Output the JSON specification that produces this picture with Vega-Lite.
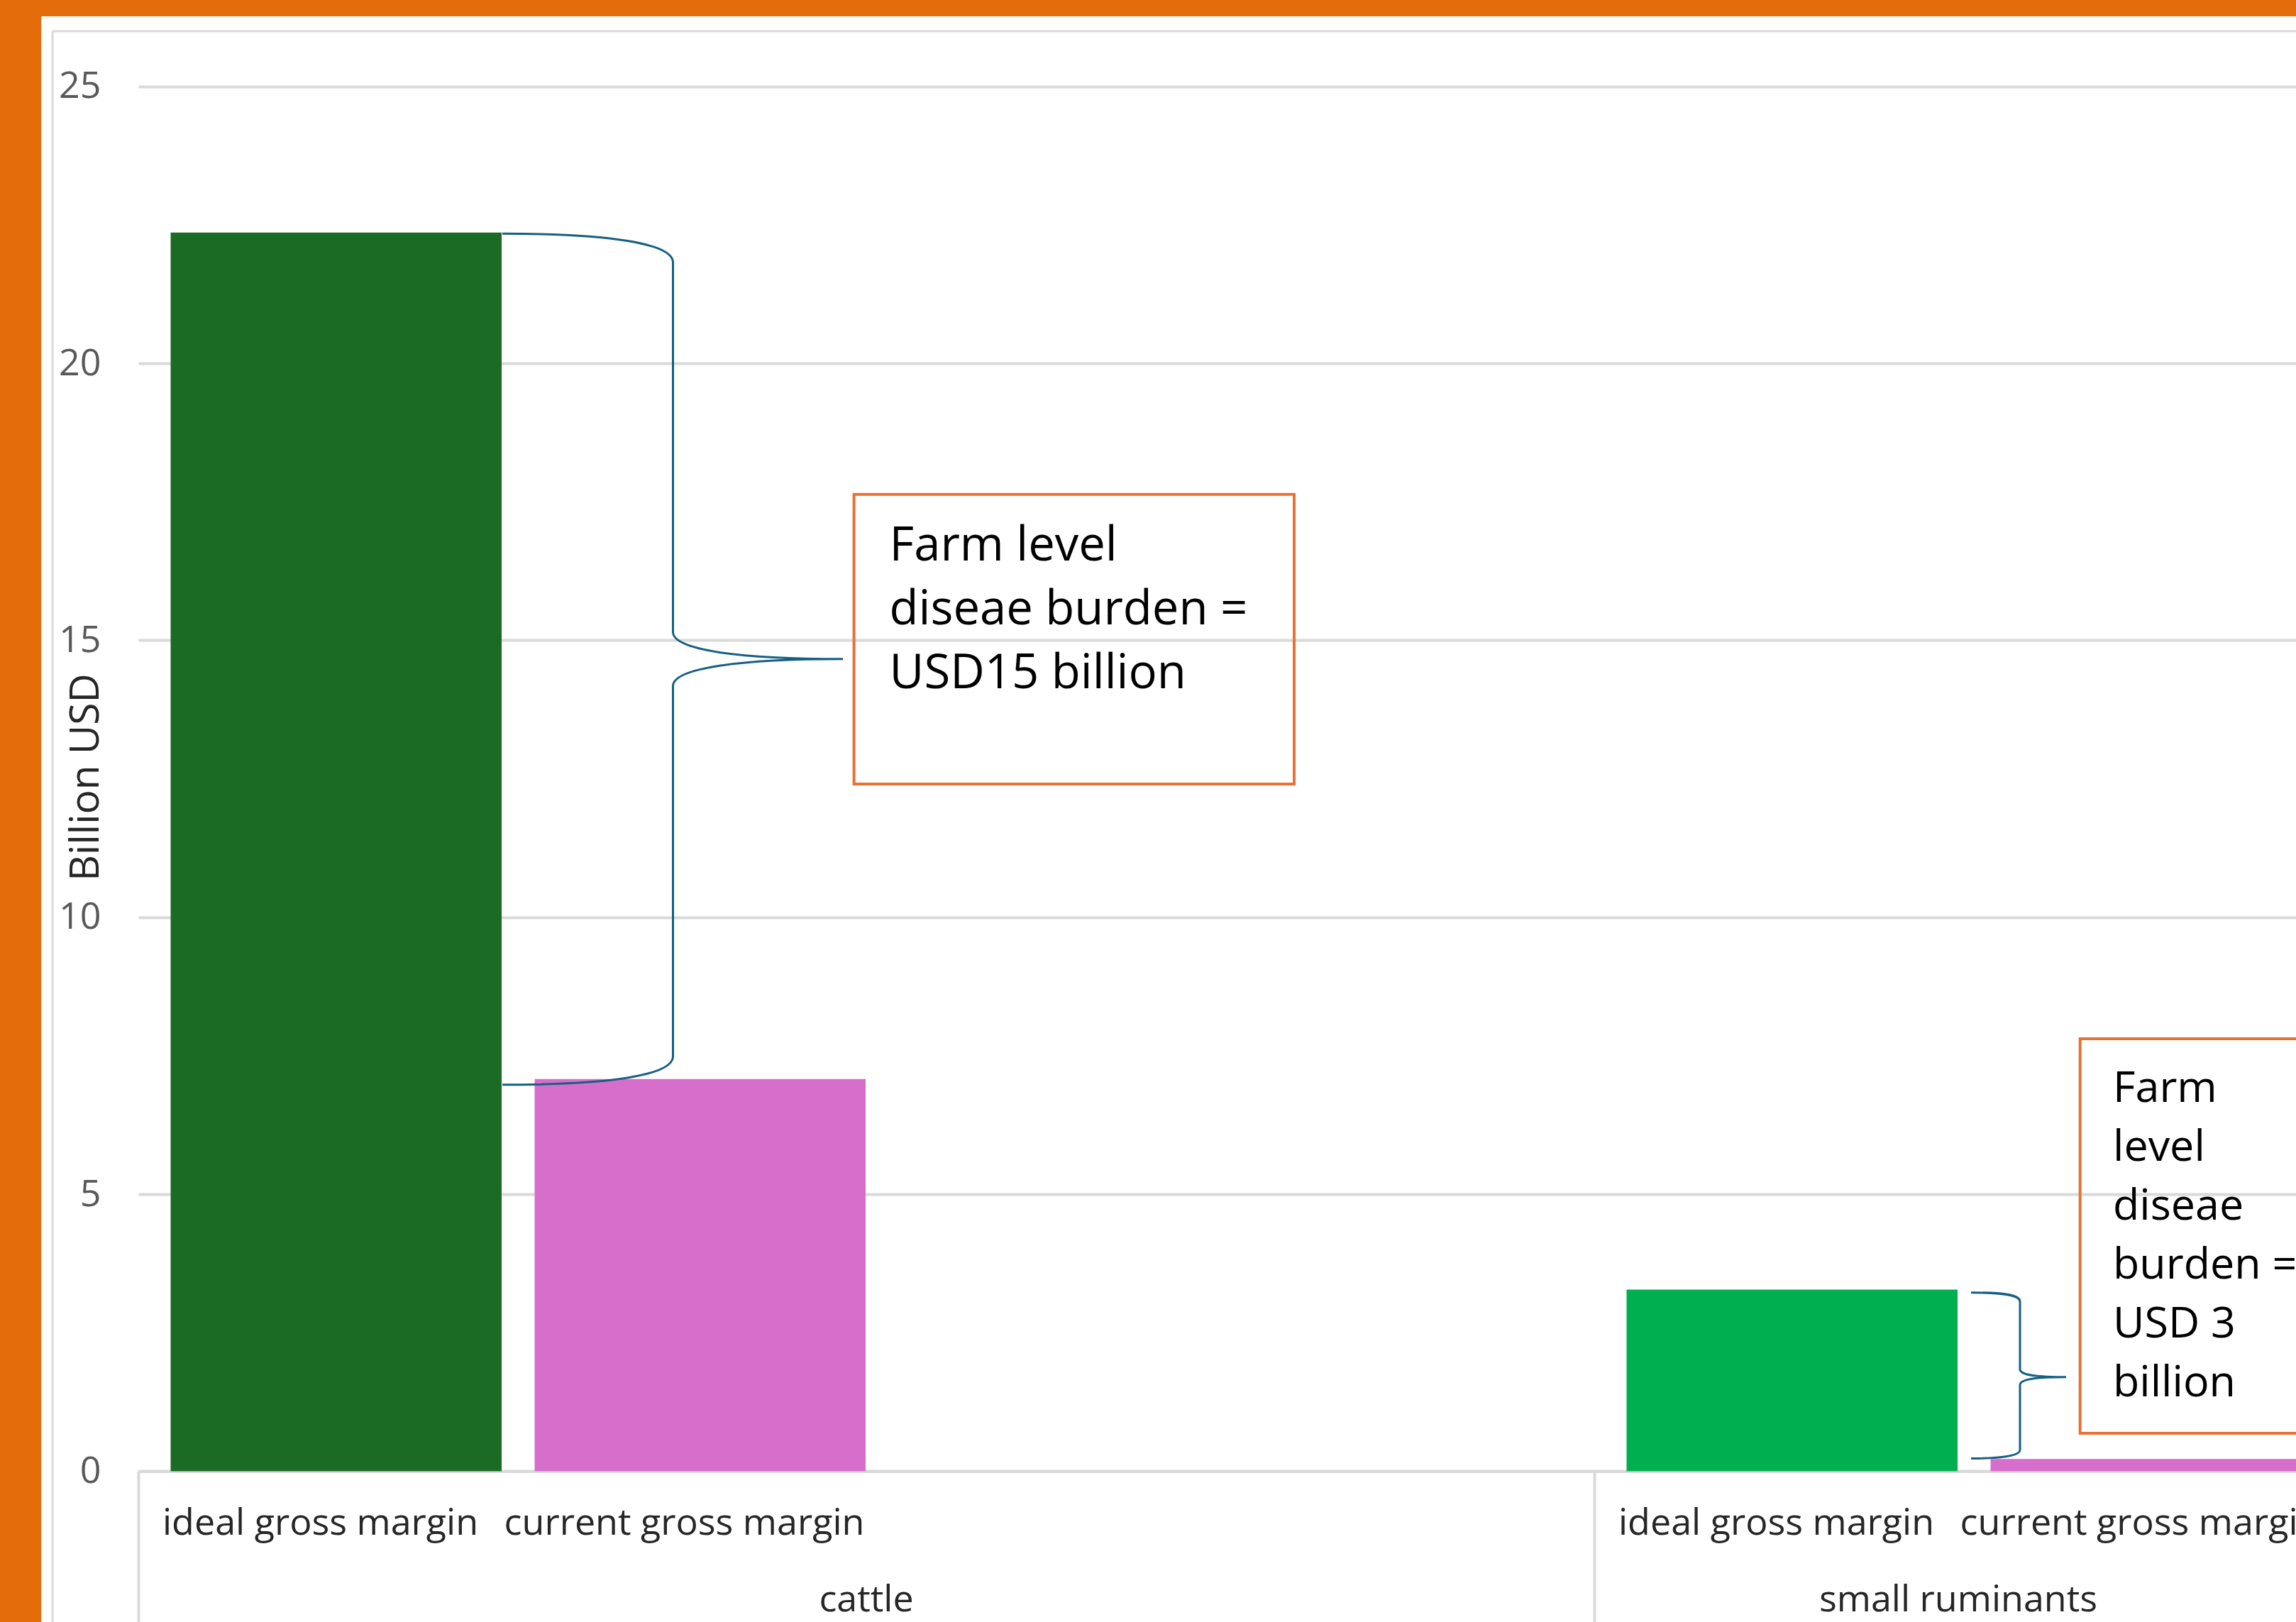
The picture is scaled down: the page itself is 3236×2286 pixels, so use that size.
{
  "$schema": "https://vega.github.io/schema/vega-lite/v6.json",
  "width": 3178,
  "height": 2263,
  "autosize": {"type": "none"},
  "padding": {"left": 58, "top": 23, "right": 0, "bottom": 0},
  "background": "#E46C0A",
  "config": {
    "font": "Open Sans",
    "view": {"fill": "white", "stroke": null}
  },
  "datasets": {
    "bars": [
      {"group": "cattle", "measure": "ideal gross margin", "slot": "cattle|ideal", "value": 22.36},
      {"group": "cattle", "measure": "current gross margin", "slot": "cattle|current", "value": 7.08},
      {"group": "small ruminants", "measure": "ideal gross margin", "slot": "sr|ideal", "value": 3.28},
      {"group": "small ruminants", "measure": "current gross margin", "slot": "sr|current", "value": 0.22}
    ],
    "annotations": [
      {"group": "cattle", "anchor": "cattle|current", "top": 22.36, "label": "Farm level\ndiseae burden =\nUSD15 billion"},
      {"group": "small ruminants", "anchor": "sr|current", "top": 3.28, "label": "Farm\nlevel\ndiseae\nburden =\nUSD 3\nbillion"}
    ]
  },
  "resolve": {
    "scale": {"x": "independent", "y": "independent", "shape": "independent", "color": "independent"},
    "axis": {"x": "independent", "y": "independent"}
  },
  "layer": [
    {
      "data": {"name": "bars"},
      "mark": {"type": "bar", "width": {"band": 0.9094}, "xOffset": 22.25},
      "encoding": {
        "x": {
          "field": "slot", "type": "nominal",
          "scale": {"type": "band", "domain": ["cattle|ideal", "cattle|current", "cattle|gap1", "cattle|gap2", "sr|ideal", "sr|current"], "range": [137, 3215], "paddingInner": 0, "paddingOuter": 0},
          "axis": {
            "orient": "bottom", "offset": -212.5,
            "values": ["cattle|ideal", "cattle|current", "sr|ideal", "sr|current"],
            "labelExpr": "indexof(datum.value, 'ideal') >= 0 ? 'ideal gross margin' : 'current gross margin'",
            "labelAngle": 0, "labelFontSize": 52, "labelColor": "#262626",
            "labelBaseline": "alphabetic", "labelPadding": 88.5, "labelLimit": 2000,
            "labelOverlap": false, "labelFlush": false,
            "ticks": false, "grid": false,
            "domain": true, "domainColor": "#d9d9d9", "domainWidth": 4,
            "title": null
          }
        },
        "y": {
          "field": "value", "type": "quantitative",
          "scale": {"domain": [-2.722, 26.264], "nice": false, "zero": false},
          "axis": {
            "orient": "left", "offset": -137,
            "values": [0, 5, 10, 15, 20, 25],
            "grid": true, "gridColor": "#d9d9d9", "gridWidth": 4,
            "domain": false, "ticks": false,
            "labelFontSize": 52, "labelColor": "#595959", "labelPadding": 53, "labelFlush": false,
            "title": "Billion USD", "titleFontSize": 57, "titleColor": "#262626", "titleFontWeight": "normal",
            "titleX": -74, "titleY": 1072, "titleAngle": -90, "titleAlign": "center", "titleBaseline": "middle"
          }
        },
        "y2": {"datum": 0},
        "color": {
          "field": "slot", "type": "nominal",
          "scale": {"domain": ["cattle|ideal", "cattle|current", "sr|ideal", "sr|current"], "range": ["#1b6b25", "#d76ecc", "#00b050", "#d76ecc"]},
          "legend": null
        }
      }
    },
    {
      "data": {"name": "annotations"},
      "mark": {"type": "point", "filled": false, "size": 4, "color": "#156082", "stroke": "#156082", "strokeWidth": 3, "opacity": 1},
      "encoding": {
        "x": {
          "field": "anchor", "type": "nominal", "bandPosition": 0,
          "scale": {"type": "band", "domain": ["cattle|ideal", "cattle|current", "cattle|gap1", "cattle|gap2", "sr|ideal", "sr|current"], "range": [137, 3215], "paddingInner": 0, "paddingOuter": 0},
          "axis": {
            "orient": "bottom", "offset": -212.5,
            "values": ["cattle|current", "sr|ideal"],
            "labelOffset": 256.5,
            "labelExpr": "datum.value == 'cattle|current' ? 'cattle' : 'small ruminants'",
            "labelAngle": 0, "labelFontSize": 52, "labelColor": "#262626",
            "labelBaseline": "alphabetic", "labelPadding": 196.5, "labelLimit": 2000,
            "labelOverlap": false, "labelFlush": false,
            "ticks": false, "grid": false, "domain": false, "title": null
          }
        },
        "y": {
          "field": "top", "type": "quantitative",
          "scale": {"domain": [-2.722, 26.264], "nice": false, "zero": false},
          "axis": null
        },
        "shape": {
          "field": "group", "type": "nominal",
          "scale": {
            "domain": ["cattle", "small ruminants"],
            "range": [
              "M0,1.5 C150,1.5 240.5,15 240.5,42 L240.5,563 C240.5,588 332,601 480,601 C332,601 240.5,614 240.5,639 L240.5,1161 C240.5,1188 150,1201 0,1201",
              "M18,4.3 C62,4.3 87,7 87,17 L87,112 C87,119 100,123.3 152,123.3 C100,123.3 87,128 87,134.5 L87,226 C87,234 62,238 18,238"
            ]
          },
          "legend": null
        }
      }
    },
    {
      "data": {"name": "annotations"},
      "mark": {"type": "point", "filled": false, "size": 4, "color": "#E97132", "stroke": "#E97132", "strokeWidth": 4, "opacity": 1},
      "encoding": {
        "x": {
          "field": "anchor", "type": "nominal", "bandPosition": 0,
          "scale": {"type": "band", "domain": ["cattle|ideal", "cattle|current", "cattle|gap1", "cattle|gap2", "sr|ideal", "sr|current"], "range": [137, 3215], "paddingInner": 0, "paddingOuter": 0},
          "axis": {
            "orient": "bottom", "offset": -212.5,
            "values": ["cattle|ideal", "sr|ideal"], "bandPosition": 0,
            "ticks": true, "tickSize": 215, "tickColor": "#d9d9d9", "tickWidth": 4,
            "labels": false, "domain": false, "grid": false, "title": null
          }
        },
        "y": {
          "field": "top", "type": "quantitative",
          "scale": {"domain": [-2.722, 26.264], "nice": false, "zero": false},
          "axis": null
        },
        "shape": {
          "field": "group", "type": "nominal",
          "scale": {
            "domain": ["cattle", "small ruminants"],
            "range": [
              "M495.6,368.9 H1116 V777.2 H495.6 Z",
              "M171.7,-353.4 H600 V202.6 H171.7 Z"
            ]
          },
          "legend": null
        }
      }
    },
    {
      "data": {"name": "annotations"},
      "transform": [{"filter": "datum.group == 'cattle'"}],
      "mark": {"type": "text", "align": "left", "baseline": "alphabetic", "dx": 545.6, "dy": 462.2, "fontSize": 67, "lineHeight": 90, "lineBreak": "\n", "color": "#000000"},
      "encoding": {
        "x": {
          "field": "anchor", "type": "nominal", "bandPosition": 0,
          "scale": {"type": "band", "domain": ["cattle|ideal", "cattle|current", "cattle|gap1", "cattle|gap2", "sr|ideal", "sr|current"], "range": [137, 3215], "paddingInner": 0, "paddingOuter": 0},
          "axis": null
        },
        "y": {
          "field": "top", "type": "quantitative",
          "scale": {"domain": [-2.722, 26.264], "nice": false, "zero": false},
          "axis": null
        },
        "text": {"field": "label", "type": "nominal"}
      }
    },
    {
      "data": {"name": "annotations"},
      "transform": [{"filter": "datum.group == 'small ruminants'"}],
      "mark": {"type": "text", "align": "left", "baseline": "alphabetic", "dx": 218, "dy": -264.9, "fontSize": 61, "lineHeight": 83, "lineBreak": "\n", "color": "#000000"},
      "encoding": {
        "x": {
          "field": "anchor", "type": "nominal", "bandPosition": 0,
          "scale": {"type": "band", "domain": ["cattle|ideal", "cattle|current", "cattle|gap1", "cattle|gap2", "sr|ideal", "sr|current"], "range": [137, 3215], "paddingInner": 0, "paddingOuter": 0},
          "axis": null
        },
        "y": {
          "field": "top", "type": "quantitative",
          "scale": {"domain": [-2.722, 26.264], "nice": false, "zero": false},
          "axis": null
        },
        "text": {"field": "label", "type": "nominal"}
      }
    },
    {
      "data": {"name": "annotations"},
      "mark": {"type": "point", "opacity": 0},
      "encoding": {
        "x": {
          "field": "top", "type": "quantitative",
          "scale": {"domain": [0, 30], "range": [15.5, 3178], "nice": false, "zero": false},
          "axis": {"orient": "top", "offset": -20.5, "domain": true, "domainColor": "#d9d9d9", "domainWidth": 3, "labels": false, "ticks": false, "grid": false, "title": null}
        },
        "y": {
          "field": "top", "type": "quantitative",
          "scale": {"domain": [0, 30], "range": [2263, 20.5], "nice": false, "zero": false},
          "axis": {"orient": "left", "offset": -15.5, "domain": true, "domainColor": "#d9d9d9", "domainWidth": 3, "labels": false, "ticks": false, "grid": false, "title": null}
        }
      }
    }
  ]
}
